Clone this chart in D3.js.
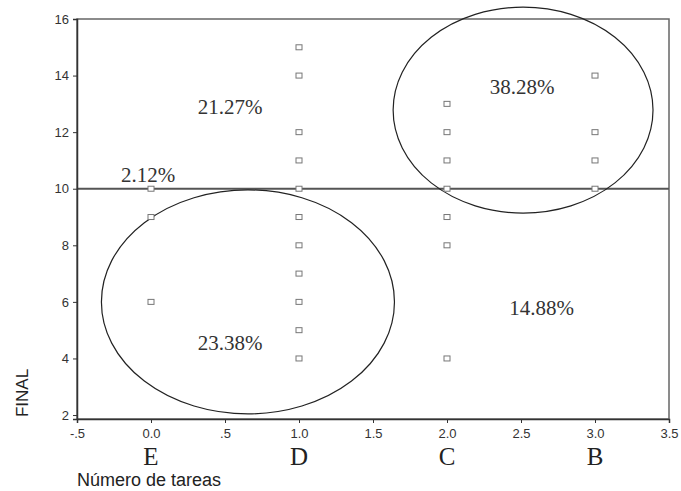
<!DOCTYPE html>
<html>
<head>
<meta charset="utf-8">
<script src="https://cdn.jsdelivr.net/npm/d3@7"></script>
<style>
  body { margin: 0; background: #fff; }
  .tick text { font-family: Arial, 'Liberation Sans', sans-serif; fill: #333; }
  .pct { font-family: 'Liberation Serif', 'Times New Roman', serif; font-size: 21px; fill: #333; }
</style>
</head>
<body>
<div id="container"></div>
<script>
let width = 681,
  height = 491,
  margin = { top: 19, right: 12, bottom: 72, left: 77 },
  bodyWidth = width - margin.left - margin.right,
  bodyHeight = height - margin.top - margin.bottom

// scatter points: x = número de tareas, y = FINAL
let tareasE = [10, 9, 6]
let tareasD = [15, 14, 12, 11, 10, 9, 8, 7, 6, 5, 4]
let tareasC = [13, 12, 11, 10, 9, 8, 4]
let tareasB = [14, 12, 11, 10]
let groupX = [0, 1, 2, 3]
let groupLetters = ['E', 'D', 'C', 'B']
let xTicks = [-0.5, 0, 0.5, 1, 1.5, 2, 2.5, 3, 3.5]
let xTickLabels = ['-.5', '0.0', '.5', '1.0', '1.5', '2.0', '2.5', '3.0', '3.5']
let yTicks = [2, 4, 6, 8, 10, 12, 14, 16]
let cutoff = 10

// ellipses in data units: [cx, cy, rx, ry]
let ellipses = [[0.655, 6.0, 0.99, 3.96], [2.514, 12.78, 0.878, 3.64]]
// percentage labels: [x, y, text]
let pctLabels = [
  [0.534, 12.89, '21.27%'],
  [-0.02, 10.49, '2.12%'],
  [2.507, 13.6, '38.28%'],
  [0.534, 4.55, '23.38%'],
  [2.64, 5.79, '14.88%']
]

let points = []
;[tareasE, tareasD, tareasC, tareasB].forEach((vals, i) => {
  vals.forEach(v => points.push({ x: groupX[i], y: v }))
})

let xScale = d3.scaleLinear().domain([-0.5, 3.5]).range([0, bodyWidth]),
  yScale = d3.scaleLinear().domain([1.86, 16]).range([bodyHeight, 0])

let xAxis = d3.axisBottom(xScale).tickValues(xTicks)
  .tickFormat((d, i) => xTickLabels[i]).tickSize(4).tickPadding(6)
let yAxis = d3.axisLeft(yScale).tickValues(yTicks).tickSize(4).tickPadding(4)

let svg = d3.select('#container')
  .append('svg')
  .attr('width', width)
  .attr('height', height)

let g = svg.append('g')
  .attr('transform', 'translate(' + margin.left + ', ' + margin.top + ')')

// frame
g.append('rect')
  .attr('width', bodyWidth)
  .attr('height', bodyHeight)
  .attr('fill', 'none')
  .attr('stroke', '#666')
  .attr('stroke-width', 1.5)

// cutoff line
g.append('line')
  .attr('x1', 0).attr('x2', bodyWidth)
  .attr('y1', yScale(cutoff)).attr('y2', yScale(cutoff))
  .attr('stroke', '#555')
  .attr('stroke-width', 1.8)

// ellipses
g.selectAll('ellipse')
  .data(ellipses)
  .enter()
  .append('ellipse')
  .attr('cx', d => xScale(d[0]))
  .attr('cy', d => yScale(d[1]))
  .attr('rx', d => xScale(d[0] + d[2]) - xScale(d[0]))
  .attr('ry', d => yScale(d[1] - d[3]) - yScale(d[1]))
  .attr('fill', 'none')
  .attr('stroke', '#222')
  .attr('stroke-width', 1.2)

// points
g.selectAll('rect.pt')
  .data(points)
  .enter()
  .append('rect')
  .attr('class', 'pt')
  .attr('x', d => xScale(d.x) - 3)
  .attr('y', d => yScale(d.y) - 2.5)
  .attr('width', 6)
  .attr('height', 5)
  .attr('fill', '#fff')
  .attr('stroke', '#777')
  .attr('stroke-width', 1)

// labels
g.selectAll('text.pct')
  .data(pctLabels)
  .enter()
  .append('text')
  .attr('class', 'pct')
  .attr('x', d => xScale(d[0]))
  .attr('y', d => yScale(d[1]))
  .attr('dy', '0.35em')
  .attr('text-anchor', 'middle')
  .text(d => d[2])

let gx = g.append('g')
  .call(xAxis)
  .attr('transform', 'translate(0, ' + bodyHeight + ')')
gx.selectAll('.tick text').attr('font-size', 13)

let gy = g.append('g')
  .call(yAxis)
gy.selectAll('.tick text').attr('font-size', 13)

g.selectAll('.domain').attr('stroke', '#333').attr('stroke-width', 1.5)
g.selectAll('.tick line').attr('stroke', '#333')

// group letters
g.selectAll('text.grp')
  .data(groupLetters)
  .enter()
  .append('text')
  .attr('class', 'grp')
  .attr('x', (d, i) => xScale(groupX[i]))
  .attr('y', bodyHeight + 46)
  .attr('text-anchor', 'middle')
  .attr('font-family', "'Liberation Serif', 'Times New Roman', serif")
  .attr('font-size', 25)
  .attr('fill', '#222')
  .text(d => d)

g.append('text')
  .text('Número de tareas')
  .attr('x', 0)
  .attr('y', bodyHeight + 67)
  .attr('font-family', "Arial, 'Liberation Sans', sans-serif")
  .attr('font-size', 18)
  .attr('fill', '#222')

g.append('text')
  .text('FINAL')
  .attr('transform', 'translate(-49, ' + (bodyHeight - 26) + ') rotate(-90)')
  .attr('text-anchor', 'middle')
  .attr('font-family', "Arial, 'Liberation Sans', sans-serif")
  .attr('font-size', 17)
  .attr('fill', '#222')
</script>
</body>
</html>
